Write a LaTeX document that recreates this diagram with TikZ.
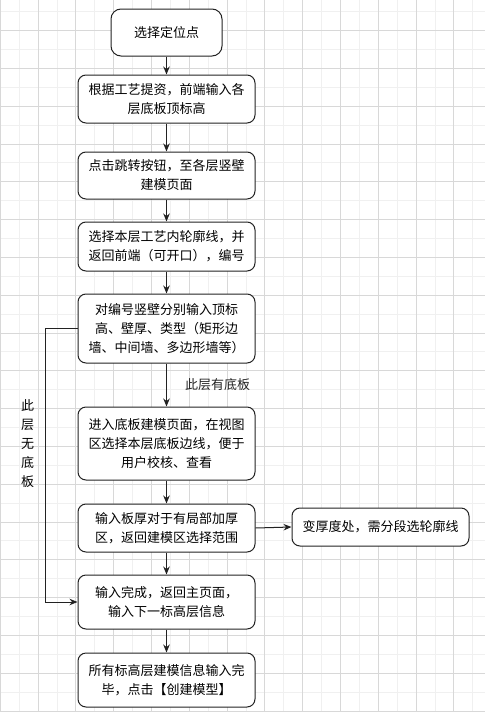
\documentclass[tikz,border=0pt]{standalone}
\usepackage{fontspec}
\setmainfont{Noto Sans CJK SC}
\usepackage{tikz}
\usetikzlibrary{arrows.meta, positioning, calc}
\definecolor{mydark}{RGB}{34,34,34}
\definecolor{gridminor}{RGB}{240,240,240}
\definecolor{gridmajor}{RGB}{216,216,216}
\tikzset{
  stepbox/.style={rectangle, draw=mydark, fill=white, text width=170pt, align=center,
    minimum width=177pt, rounded corners=8pt, line width=1pt, inner sep=0pt,
    font=\fontsize{13}{19}\selectfont},
  startbox/.style={stepbox, text width=, minimum width=111pt, minimum height=47pt, rounded corners=10pt},
  arrow/.style={-{Stealth[length=8pt,width=6.5pt]}, line width=1pt, color=mydark},
  lbl/.style={font=\fontsize{13}{19}\selectfont, inner sep=0pt}
}

\begin{document}
\begin{tikzpicture}[x=1pt, y=-1pt]
\useasboundingbox (0,0) rectangle (485,718);
%--- background grid ---
\foreach \k in {1,3,...,25} { \draw[gridminor, line width=1pt] (0.3+18.9*\k,0) -- (0.3+18.9*\k,710.7); }
\foreach \k in {0,2,...,37} { \draw[gridminor, line width=1pt] (0,11.7+18.9*\k) -- (485,11.7+18.9*\k); }
\foreach \k in {0,2,...,24} { \draw[gridmajor, line width=1pt] (0.3+18.9*\k,0) -- (0.3+18.9*\k,710.7); }
\foreach \k in {1,3,...,37} { \draw[gridmajor, line width=1pt] (0,11.7+18.9*\k) -- (485,11.7+18.9*\k); }

%--- main column ---
\node[startbox] (start) at (166.5,32.5) {选择定位点};
\node[stepbox, minimum height=48pt] (input) at (166.5,99) {根据工艺提资，前端输入各\\层底板顶标高};
\node[stepbox, minimum height=47pt] (jump) at (166.5,175.5) {点击跳转按钮，至各层竖壁\\建模页面};
\node[stepbox, minimum height=49pt] (contour) at (166.5,246.5) {选择本层工艺内轮廓线，并\\返回前端（可开口），编号};
\node[stepbox, minimum height=69pt] (wall) at (166.5,328.5) {对编号竖壁分别输入顶标\\高、壁厚、类型（矩形边\\墙、中间墙、多边形墙等）};
\node[stepbox, minimum height=73pt] (slab) at (166.5,443.5) {进入底板建模页面，在视图\\区选择本层底板边线，便于\\用户校核、查看};
\node[stepbox, minimum height=48pt] (thick) at (166.5,528) {输入板厚对于有局部加厚\\区，返回建模区选择范围};
\node[stepbox, minimum height=54pt] (next) at (166.5,602) {输入完成，返回主页面，\\输入下一标高层信息};
\node[stepbox, minimum height=54pt] (create) at (166.5,680) {所有标高层建模信息输入完\\毕，点击【创建模型】};
% side note
\node[stepbox, minimum height=38pt] (segment) at (380.5,527) {变厚度处，需分段选轮廓线};

%--- connectors ---
\draw[arrow] (start) -- (input);
\draw[arrow] (input) -- (jump);
\draw[arrow] (jump) -- (contour);
\draw[arrow] (contour) -- (wall);
\draw[arrow] (wall) -- node[lbl, right=18pt]{此层有底板} (slab);
\draw[arrow] (slab) -- (thick);
\draw[arrow] (thick) -- (next);
\draw[arrow] (next) -- (create);
\draw[arrow] (thick.east) -- (segment.west);
% no slab on this floor
\draw[arrow] (wall.west) -- ++(-32,0) coordinate (bend) |- (next.west);
\node[lbl, align=center] (noslab) at ($(bend |- slab)+(-18,0)$) {此\\层\\无\\底\\板};
\end{tikzpicture}
\end{document}
